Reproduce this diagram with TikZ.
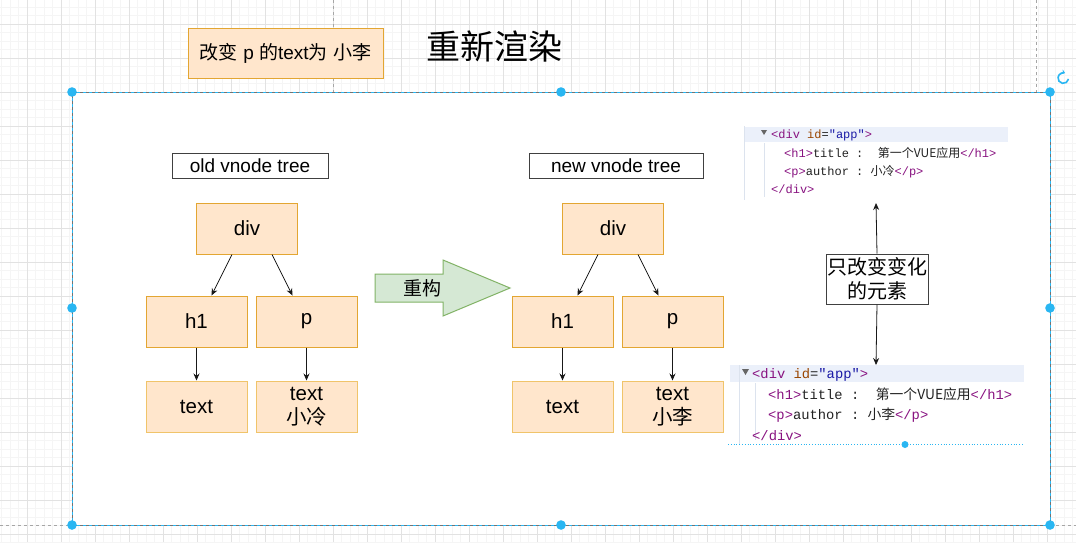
\documentclass[tikz,border=0pt]{standalone}
\usepackage{fontspec}
\setmainfont{Liberation Sans}
\setmonofont{Liberation Mono}
\newfontfamily\cjk{Noto Sans CJK SC}
\newcommand{\zh}[1]{{\cjk #1}}
\usetikzlibrary{positioning}
\usetikzlibrary{arrows.meta}
\usetikzlibrary{calc}

\definecolor{vfill}{HTML}{FFE6CC}
\definecolor{vborder}{HTML}{E3A632}
\definecolor{vborderlt}{HTML}{F0C46A}
\definecolor{arrfill}{HTML}{D5E8D4}
\definecolor{arrborder}{HTML}{82B366}
\definecolor{handleblue}{HTML}{29B6F2}
\definecolor{gridmin}{HTML}{F5F5F5}
\definecolor{gridmaj}{HTML}{E2E2E2}
\definecolor{ctag}{HTML}{881280}
\definecolor{cattr}{HTML}{994500}
\definecolor{cval}{HTML}{1A1AA6}
\definecolor{ctext}{HTML}{222222}
\definecolor{crow}{HTML}{EBF0FA}
\definecolor{cguide}{HTML}{DCE3EE}

\begin{document}
\begin{tikzpicture}[
        x=1pt, y=-1pt,
        every node/.style={font=\fontsize{19}{22}\selectfont},
        vnode/.style={draw=vborder, fill=vfill, line width=1pt, minimum width=101pt,
            minimum height=51pt, inner sep=0pt, align=center,
            font=\fontsize{20.5}{23.5}\selectfont},
        leafnode/.style={vnode, draw=vborderlt},
        treelabel/.style={draw=black!75, line width=1pt, fill=white,
            minimum height=25pt, inner sep=0pt},
        link/.style={draw=black!90, line width=0.8pt, -{Stealth[length=7pt,width=6pt]}},
        codeline/.style={anchor=base west, inner sep=0pt, text=ctext},
        handle/.style={fill=handleblue, draw=none}
    ]

        % Hintergrund mit Raster
        \useasboundingbox (0,0) rectangle (1076,542);
        \fill[white] (0,0) rectangle (1076,542);
        \foreach \i in {0,...,130}
            \draw[gridmin] ({-7+8.5*\i},0) -- ({-7+8.5*\i},542);
        \foreach \i in {0,...,66}
            \draw[gridmin] (0,{-10+8.5*\i}) -- (1076,{-10+8.5*\i});
        \foreach \i in {0,...,33}
            \draw[gridmaj] ({-7+34*\i},0) -- ({-7+34*\i},542);
        \foreach \i in {0,...,17}
            \draw[gridmaj] (0,{-10+34*\i}) -- (1076,{-10+34*\i});

        % Hilfslinien
        \draw[black!35, dashed] (333,0) -- (333,92);
        \draw[black!35, dashed] (1036,0) -- (1036,92);
        \draw[black!35, dashed] (0,525) -- (72,525);
        \draw[black!35, dashed] (1050,525) -- (1076,525);

        % Auswahlrahmen
        \fill[white] (72,92) rectangle (1050,525);
        \draw[black!55, line width=1pt] (72,92) rectangle (1050,525);
        \draw[handleblue, dashed, line width=1pt] (72,92) rectangle (1050,525);
        \foreach \p in {(72,92),(561,92),(1050,92),(72,308),(1050,308),
                        (72,525),(561,525),(1050,525)}
            \fill[handle] \p circle (4.8);
        \draw[handleblue, line width=1.6pt, -{Stealth[length=3.5pt,width=5pt]}]
            (1068.5,79) arc[start angle=10, end angle=290, radius=5.3];

        % Kopfzeile
        \node[draw=vborder, fill=vfill, line width=1pt, minimum width=195pt,
            minimum height=50pt, inner sep=0pt] (change) at (285.5,53)
            {\zh{改变} p \zh{的}text\zh{为} \zh{小李}};
        \node[font=\fontsize{34}{38}\selectfont] (title) at (494,46) {\zh{重新渲染}};

        % alter Baum
        \node[treelabel, minimum width=156pt] (oldlabel) at (250,165.5) {old vnode tree};
        \node[vnode] (olddiv) at (247,228.5) {div};
        \node[vnode] (oldh1) at (196.5,321.5) {h1};
        \node[vnode] (oldp) at (306.5,321.5) {p};
        \node[leafnode] (oldtext) at (196.5,406.5) {text};
        \node[leafnode] (oldptext) at (306.5,406.5) {text\\\zh{小冷}};

        \draw[link] ([xshift=-15pt]olddiv.south) -- ([xshift=15pt]oldh1.north);
        \draw[link] ([xshift=25pt]olddiv.south) -- ([xshift=-14pt]oldp.north);
        \draw[link] (oldh1.south) -- (oldtext.north);
        \draw[link] (oldp.south) -- (oldptext.north);

        % Pfeil
        \filldraw[fill=arrfill, draw=arrborder, line width=1pt]
            (375,274) -- (443,274) -- (443,260) -- (510,288) -- (443,316)
            -- (443,302) -- (375,302) -- cycle;
        \node (rebuild) at (422,288) {\zh{重构}};

        % neuer Baum
        \node[treelabel, minimum width=174pt] (newlabel) at (616,165.5) {new vnode tree};
        \node[vnode] (newdiv) at (613,228.5) {div};
        \node[vnode] (newh1) at (562.5,321.5) {h1};
        \node[vnode] (newp) at (672.5,321.5) {p};
        \node[leafnode] (newtext) at (562.5,406.5) {text};
        \node[leafnode] (newptext) at (672.5,406.5) {text\\\zh{小李}};

        \draw[link] ([xshift=-15pt]newdiv.south) -- ([xshift=15pt]newh1.north);
        \draw[link] ([xshift=25pt]newdiv.south) -- ([xshift=-14pt]newp.north);
        \draw[link] (newh1.south) -- (newtext.north);
        \draw[link] (newp.south) -- (newptext.north);

        % DOM oben
        \fill[crow] (744,127) rectangle (1008,142);
        \draw[cguide] (744,126) -- (744,200);
        \draw[cguide] (764,143) -- (764,197);
        \fill[black!60] (761,130) -- (767,130) -- (764,135) -- cycle;
        \begin{scope}[every node/.style={codeline, font=\ttfamily\fontsize{12}{14}\selectfont}]
            \node (topl1) at (771,138) {\textcolor{ctag}{<div} \textcolor{cattr}{id}=\textcolor{cval}{"app"}\textcolor{ctag}{>}};
            \node (topl2) at (784,157) {\textcolor{ctag}{<h1>}title :\ \ \zh{第一个VUE应用}\textcolor{ctag}{</h1>}};
            \node (topl3) at (784,175) {\textcolor{ctag}{<p>}author : \zh{小冷}\textcolor{ctag}{</p>}};
            \node (topl4) at (771,193) {\textcolor{ctag}{</div>}};
        \end{scope}
        \coordinate (topcode) at (876,203);

        % DOM unten
        \fill[crow] (730,365) rectangle (1024,382);
        \draw[cguide] (739,365) -- (739,444);
        \draw[cguide] (755,383) -- (755,440);
        \fill[black!60] (742,369) -- (749,369) -- (745.5,375) -- cycle;
        \begin{scope}[every node/.style={codeline, font=\ttfamily\fontsize{13.8}{16}\selectfont}]
            \node (botl1) at (752,378) {\textcolor{ctag}{<div} \textcolor{cattr}{id}=\textcolor{cval}{"app"}\textcolor{ctag}{>}};
            \node (botl2) at (768,399) {\textcolor{ctag}{<h1>}title :\ \ \zh{第一个VUE应用}\textcolor{ctag}{</h1>}};
            \node (botl3) at (768,419) {\textcolor{ctag}{<p>}author : \zh{小李}\textcolor{ctag}{</p>}};
            \node (botl4) at (752,440) {\textcolor{ctag}{</div>}};
        \end{scope}
        \draw[handleblue, dotted, line width=0.8pt] (728,444.5) -- (1024,444.5);
        \fill[handle] (905,444.5) circle (3.5);
        \coordinate (botcode) at (876,365);

        % nur Aenderungen
        \node[draw=black!75, line width=1pt, fill=white, minimum width=102pt,
            minimum height=50pt, inner sep=0pt, align=center,
            font=\fontsize{20}{23.5}\selectfont]
            (onlychange) at (877,279) {\zh{只改变变化}\\\zh{的元素}};
        \draw[link] (onlychange.north) -- (topcode);
        \draw[link] (onlychange.south) -- (botcode);

    \end{tikzpicture}
\end{document}
